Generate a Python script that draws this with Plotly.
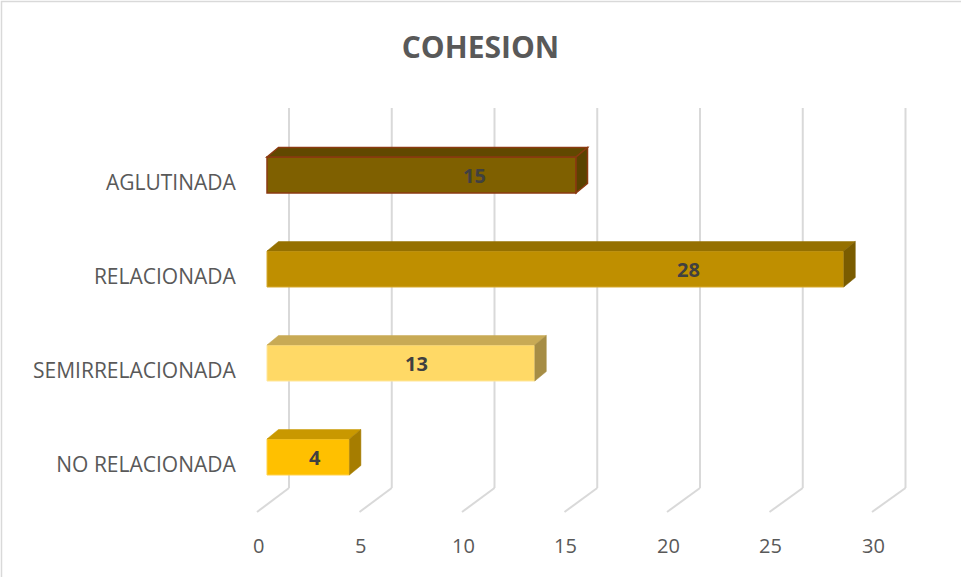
import plotly.graph_objects as go

# ---- data ----
categories = ["NO RELACIONADA", "SEMIRRELACIONADA", "RELACIONADA", "AGLUTINADA"]
values = [4, 13, 28, 15]
x_ticks = [0, 5, 10, 15, 20, 25, 30]
title_text = "COHESION"

# ---- styles ----
front_colors = ["#FFC000", "#FFD966", "#BF8F00", "#7F6000"]
top_colors = ["#C99800", "#C8AA55", "#957000", "#614800"]
side_colors = ["#A67D00", "#A68D45", "#7A5C00", "#5A4300"]
edge_colors = ["#FFD24D", "#FFE699", "#D6A92F", "#8B3A10"]
edge_widths = [1, 1, 1, 1.5]
label_frac = [0.58, 0.56, 0.73, 0.67]   # where Excel put each data label along its bar

W, H = 961, 577
ML, MR, MT, MB = 247, 45, 95, 52
PW, PH = W - ML - MR, H - MT - MB

# x: bar front plane
X0PX, XS = 267.0, 20.6
xr = [(ML - X0PX) / XS, (W - MR - X0PX) / XS]
def xd(px):
    return (px - X0PX) / XS

# y: bars; category labels sit 8px lower than the bar fronts
YS = 94.0
LABEL_SHIFT = 8 / YS
y_hi = (465 - MT) / YS - LABEL_SHIFT
yr = [y_hi - PH / YS, y_hi]
def yd(py):
    return yr[1] - (py - MT) / YS

bar_w = 36 / YS
ddx = 11.5 / XS
ddy = 9.5 / YS

fig = go.Figure()
fig.add_trace(go.Bar(
    y=list(range(len(categories))), x=values, orientation="h",
    width=bar_w,
    marker=dict(color=front_colors, line=dict(color=edge_colors, width=edge_widths)),
    hoverinfo="x", showlegend=False,
))

shapes = []
# grid: back wall verticals + floor diagonals
for v in x_ticks:
    bx = xd(289 + v * 20.55)
    fx = xd(257 + v * 20.5)
    shapes.append(dict(type="line", xref="x", yref="y", x0=bx, x1=bx,
                       y0=yd(488), y1=yd(108), layer="below",
                       line=dict(color="#D9D9D9", width=2)))
    shapes.append(dict(type="line", xref="x", yref="y", x0=fx, x1=bx,
                       y0=yd(512), y1=yd(488), layer="below",
                       line=dict(color="#D9D9D9", width=2)))

# 3D faces of the bars
for i, v in enumerate(values):
    yt = i + bar_w / 2
    yb = i - bar_w / 2
    top = f"M 0,{yt} L {v},{yt} L {v + ddx},{yt + ddy} L {ddx},{yt + ddy} Z"
    side = f"M {v},{yb} L {v},{yt} L {v + ddx},{yt + ddy} L {v + ddx},{yb + ddy} Z"
    lc = edge_colors[i] if i == 3 else top_colors[i]
    shapes.append(dict(type="path", xref="x", yref="y", path=top,
                       fillcolor=top_colors[i], line=dict(color=lc, width=edge_widths[i] if i == 3 else 0.5)))
    lc = edge_colors[i] if i == 3 else side_colors[i]
    shapes.append(dict(type="path", xref="x", yref="y", path=side,
                       fillcolor=side_colors[i], line=dict(color=lc, width=edge_widths[i] if i == 3 else 0.5)))

# outer chart border
shapes.append(dict(type="rect", xref="paper", yref="paper",
                   x0=(1.5 - ML) / PW, x1=(W + 5 - ML) / PW,
                   y0=(H - MB - (H + 5)) / PH, y1=(H - MB - 1.5) / PH,
                   line=dict(color="#D9D9D9", width=1.5), fillcolor="rgba(0,0,0,0)"))

annotations = []
for i, v in enumerate(values):
    annotations.append(dict(x=v * label_frac[i], y=i, xref="x", yref="y",
                            text=f"<b>{v}</b>", showarrow=False,
                            font=dict(family="Open Sans", size=20, color="#404040")))
for v in x_ticks:
    annotations.append(dict(x=xd(258 + v * 20.5), y=(H - MB - 545) / PH, xref="x", yref="paper",
                            text=str(v), showarrow=False, yanchor="middle",
                            font=dict(family="Open Sans", size=20, color="#595959")))

fig.update_layout(
    width=W, height=H,
    margin=dict(l=ML, r=MR, t=MT, b=MB),
    paper_bgcolor="white", plot_bgcolor="white",
    title=dict(text=f"<b>{title_text}</b>", x=0.5, xanchor="center",
               y=1 - 47 / H, yref="container", yanchor="middle",
               font=dict(family="Open Sans", size=30, color="#595959")),
    xaxis=dict(range=xr, showgrid=False, zeroline=False, showline=False,
               showticklabels=False, ticks=""),
    yaxis=dict(range=yr, tickvals=[i - LABEL_SHIFT for i in range(len(categories))],
               ticktext=categories,
               showgrid=False, zeroline=False, showline=False,
               ticks="outside", ticklen=6, tickcolor="rgba(0,0,0,0)",
               tickfont=dict(family="Open Sans", size=21, color="#595959")),
    shapes=shapes,
    annotations=annotations,
)

fig.write_html("out.html")
